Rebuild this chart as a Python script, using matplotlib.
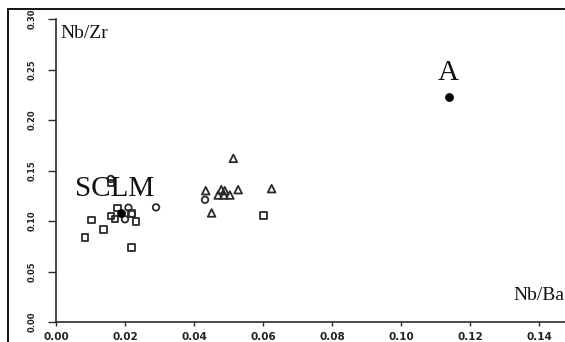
import matplotlib
matplotlib.use("Agg")
import matplotlib.pyplot as plt
from matplotlib.patches import Rectangle

# Data (Nb/Ba, Nb/Zr)
sq_x = [0.0084, 0.0103, 0.0137, 0.0219, 0.0178, 0.0159, 0.0171, 0.0232, 0.0601, 0.0219, 0.0160]
sq_y = [0.0839, 0.1010, 0.0918, 0.0740, 0.1130, 0.1050, 0.1020, 0.0997, 0.1056, 0.1076, 0.1375]

ci_x = [0.0210, 0.0200, 0.0220, 0.0290, 0.0432, 0.0159]
ci_y = [0.1132, 0.1017, 0.1070, 0.1135, 0.1210, 0.1416]

tr_x = [0.0514, 0.0434, 0.0479, 0.0489, 0.0470, 0.0487, 0.0504, 0.0528, 0.0625, 0.0451]
tr_y = [0.1620, 0.1300, 0.1310, 0.1300, 0.1257, 0.1257, 0.1257, 0.1310, 0.1320, 0.1080]

ref_x = [0.0188, 0.1140]
ref_y = [0.1076, 0.2225]
ref_labels = ["SCLM", "A"]

xticks = [0.00, 0.02, 0.04, 0.06, 0.08, 0.10, 0.12, 0.14]
yticks = [0.00, 0.05, 0.10, 0.15, 0.20, 0.25, 0.30]

W, H = 565, 342
fig = plt.figure(figsize=(W / 100, H / 100), dpi=100)
ax = fig.add_axes([56 / W, (H - 322) / H, 1 - 56 / W, (322 - 19) / H])
ax.set_xlim(0, (W - 56) / 3450)
ax.set_ylim(0, 0.30)

ink = "#2a2a2a"
kw = dict(facecolor="none", edgecolor=ink, linewidths=1.3, zorder=3)
ax.scatter(sq_x, sq_y, marker="s", s=22, **kw)
ax.scatter(ci_x, ci_y, marker="o", s=22, **kw)
ax.scatter(tr_x, tr_y, marker="^", s=30, **kw)
ax.scatter(ref_x, ref_y, marker="o", s=28, color="black", zorder=4)

serif = ["Liberation Serif", "DejaVu Serif"]
fig.text(75 / W, (H - 189) / H, ref_labels[0], family=serif, fontsize=21,
         ha="left", va="center", color="#111")
fig.text(448 / W, (H - 73) / H, ref_labels[1], family=serif, fontsize=21,
         ha="center", va="center", color="#111")
fig.text(60 / W, (H - 33) / H, "Nb/Zr", family=serif, fontsize=14,
         ha="left", va="center", color="#111")
fig.text(513 / W, (H - 295) / H, "Nb/Ba", family=serif, fontsize=14,
         ha="left", va="center", color="#111")

for s in ["top", "right"]:
    ax.spines[s].set_visible(False)
ax.spines["left"].set_bounds(0, 0.30)
for s in ["left", "bottom"]:
    ax.spines[s].set_color(ink)
    ax.spines[s].set_linewidth(1.2)

ax.set_xticks(xticks)
ax.set_xticklabels([f"{v:.2f}" for v in xticks], fontsize=7.5, fontweight="bold",
                   family="DejaVu Sans", color="#222")
ax.set_yticks(yticks)
ax.set_yticklabels([f"{v:.2f}" for v in yticks], fontsize=6, fontweight="bold",
                   family="DejaVu Sans", color="#222", rotation=90, va="center")
ax.tick_params(axis="x", length=3, width=1.0, color=ink, pad=4)
ax.tick_params(axis="y", length=6, width=1.0, color=ink, pad=8)

# outer frame (cropped figure border)
fig.patches.append(Rectangle((8 / W, -0.2), 1.2, (H - 9) / H + 0.2,
                             transform=fig.transFigure, fill=False,
                             edgecolor="black", linewidth=1.3, zorder=10))

fig.savefig("out.png", dpi=100)
